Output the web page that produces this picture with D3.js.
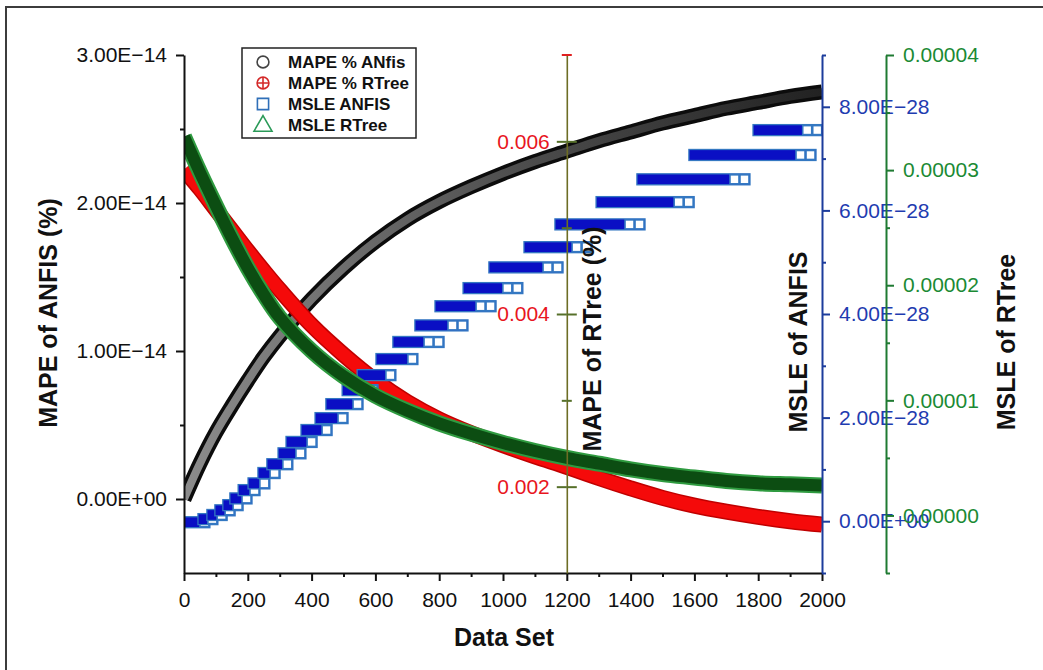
<!DOCTYPE html>
<html>
<head>
<meta charset="utf-8">
<script src="https://cdn.jsdelivr.net/npm/d3@7"></script>
<style>
  body { margin: 0; background: #fff; }
  svg { display: block; }
</style>
</head>
<body>
<script>
const FONT = "'Liberation Sans', Arial, Helvetica, sans-serif";

const dataSet = [0, 50, 100, 150, 200, 250, 300, 400, 500, 600, 700, 800, 900, 1000,
                 1100, 1200, 1300, 1400, 1500, 1600, 1700, 1800, 1900, 2000];
// MAPE of ANFIS, units of 1E-14
const mapeAnfis = [0.00, 0.24, 0.45, 0.63, 0.80, 0.96, 1.10, 1.35, 1.56, 1.74, 1.89, 2.01, 2.11, 2.20,
                   2.28, 2.35, 2.42, 2.48, 2.54, 2.59, 2.64, 2.68, 2.72, 2.75];
// MAPE of RTree (%)
const mapeRtree = [0.00567, 0.00545, 0.00521, 0.00497, 0.00473, 0.00450, 0.00428, 0.00387, 0.00353, 0.00323,
                   0.00298, 0.00278, 0.00262, 0.00248, 0.00235, 0.00223, 0.00210, 0.00198, 0.00187, 0.00178,
                   0.00171, 0.00165, 0.00160, 0.00156];
// MSLE of RTree, units of 1E-5
const msleRtree = [3.29, 2.98, 2.69, 2.41, 2.15, 1.92, 1.72, 1.43, 1.21, 1.04, 0.91, 0.80, 0.71, 0.63,
                   0.56, 0.50, 0.45, 0.40, 0.36, 0.33, 0.30, 0.28, 0.27, 0.26];
// MSLE of ANFIS: stepped runs of squares, level in units of 1E-28, run start / end on Data Set
const msleLevel = [-0.02, 0.04, 0.12, 0.21, 0.31, 0.44, 0.60, 0.73, 0.93, 1.10, 1.31, 1.53, 1.76, 1.99, 2.26,
                   2.53, 2.82, 3.13, 3.46, 3.78, 4.15, 4.50, 4.90, 5.29, 5.73, 6.16, 6.60, 7.07, 7.55];
const msleStart = [0, 61, 89, 114, 139, 161, 187, 218, 249, 277, 312, 337, 384, 428, 462,
                   513, 560, 619, 672, 741, 804, 892, 973, 1083, 1180, 1309, 1437, 1600, 1801];
const msleEnd = [64, 89, 118, 143, 168, 196, 221, 252, 284, 324, 365, 400, 447, 497, 544,
                 591, 647, 716, 798, 873, 961, 1045, 1171, 1262, 1428, 1582, 1757, 1964, 1985];

// ticks
const xTicks = [0, 200, 400, 600, 800, 1000, 1200, 1400, 1600, 1800, 2000];
const xMinor = [100, 300, 500, 700, 900, 1100, 1300, 1500, 1700, 1900];
const anfisTicks = [0, 1, 2, 3];
const anfisLabels = ["0.00E+00", "1.00E\u221214", "2.00E\u221214", "3.00E\u221214"];
const anfisMinor = [0.5, 1.5, 2.5];
const rtreeTicks = [0.002, 0.004, 0.006];
const rtreeLabels = ["0.002", "0.004", "0.006"];
const rtreeMinor = [0.003, 0.005];
const msleATicks = [0, 2, 4, 6, 8];
const msleALabels = ["0.00E+00", "2.00E\u221228", "4.00E\u221228", "6.00E\u221228", "8.00E\u221228"];
const msleAMinor = [-1, 1, 3, 5, 7, 9];
const msleRTicks = [0, 1, 2, 3, 4];
const msleRLabels = ["0.00000", "0.00001", "0.00002", "0.00003", "0.00004"];
const msleRMinor = [-0.5, 0.5, 1.5, 2.5, 3.5];
const legendNames = ["MAPE % ANfis", "MAPE % RTree", "MSLE ANFIS", "MSLE RTree"];

const W = 1043, H = 670;
const plot = { left: 184, right: 822, top: 55, bottom: 573 };
const blueAxisX = 822, greenAxisX = 886;

const svg = d3.select("body").append("svg").attr("width", W).attr("height", H);
svg.append("rect").attr("width", W).attr("height", H).attr("fill", "#fff");

// frame
svg.append("path")
    .attr("d", `M6,${H} V7 H${W}`)
    .attr("fill", "none")
    .attr("stroke", "#3c3c3c")
    .attr("stroke-width", 2);

const xScale = d3.scaleLinear().domain([0, 2000]).range([plot.left, plot.right]);
const yAnfis = d3.scaleLinear().domain([-0.5, 3]).range([plot.bottom, plot.top]);
const yRtree = d3.scaleLinear().domain([0.001, 0.007]).range([plot.bottom, plot.top]);
const yMsleA = d3.scaleLinear().domain([-1, 9]).range([plot.bottom, plot.top]);
const yMsleR = d3.scaleLinear().domain([-0.5, 4]).range([plot.bottom, plot.top]);

svg.append("defs").append("clipPath").attr("id", "plot-clip")
    .append("rect")
    .attr("x", plot.left).attr("y", 0)
    .attr("width", plot.right - plot.left).attr("height", H);

const grad = svg.select("defs").append("linearGradient")
    .attr("id", "black-grad")
    .attr("gradientUnits", "userSpaceOnUse")
    .attr("x1", plot.left).attr("x2", plot.right).attr("y1", 0).attr("y2", 0);
grad.append("stop").attr("offset", "0%").attr("stop-color", "#8c8c8c");
grad.append("stop").attr("offset", "50%").attr("stop-color", "#505050");
grad.append("stop").attr("offset", "100%").attr("stop-color", "#222");

const canvas = svg.append("g").attr("clip-path", "url(#plot-clip)");

function band(values, yScale, layers)
{
    var line = d3.line()
        .x(function (d, i) { return xScale(dataSet[i]); })
        .y(function (d) { return yScale(d); })
        .curve(d3.curveCatmullRom.alpha(0.5));
    layers.forEach(function (l) {
        canvas.append("path")
            .datum(values)
            .attr("d", line)
            .attr("fill", "none")
            .attr("stroke", l.color)
            .attr("stroke-width", l.width)
            .attr("stroke-linecap", "butt")
            .attr("stroke-linejoin", "round");
    });
}

// draw order follows the legend: black, red, blue, green
band(mapeAnfis, yAnfis, [{ color: "#0c0c0c", width: 15 }, { color: "url(#black-grad)", width: 8 }]);
band(mapeRtree, yRtree, [{ color: "#c00000", width: 16 }, { color: "#f50a0a", width: 13 }]);

const m = 11;
const runs = msleLevel.map(function (v, i) {
    return { level: v, start: msleStart[i], end: msleEnd[i] };
});
const runG = canvas.append("g").selectAll("g").data(runs).enter().append("g");
runG.append("rect")
    .attr("x", function (d) { return xScale(d.start) - m / 2; })
    .attr("y", function (d) { return yMsleA(d.level) - m / 2; })
    .attr("width", function (d) { return xScale(d.end) - xScale(d.start) + m; })
    .attr("height", m)
    .attr("fill", "#0a0fc4")
    .attr("stroke", "#3478c2")
    .attr("stroke-width", 1.3);
runG.each(function (d) {
    var len = xScale(d.end) - xScale(d.start);
    var n = len > 40 ? 2 : 1;
    for (var k = 0; k < n; k++) {
        d3.select(this).append("rect")
            .attr("x", xScale(d.end) - m / 2 - k * (m - 1) + 1)
            .attr("y", yMsleA(d.level) - m / 2 + 1)
            .attr("width", m - 2)
            .attr("height", m - 2)
            .attr("fill", "#fff")
            .attr("stroke", "#3478c2")
            .attr("stroke-width", 1.6);
    }
});

band(msleRtree, yMsleR, [{ color: "#2f9b40", width: 16 }, { color: "#0c4d12", width: 12 }]);

// axes
function styleAxis(g, lineColor, textColor, size)
{
    g.attr("font-family", FONT).attr("font-size", size);
    g.select(".domain").attr("stroke", lineColor).attr("stroke-width", 2);
    g.selectAll(".tick line").attr("stroke", lineColor).attr("stroke-width", 2);
    g.selectAll(".tick text").attr("fill", textColor);
}

function minorAxis(axis, x, y, color)
{
    var g = svg.append("g").attr("transform", `translate(${x},${y})`).call(axis.tickFormat(""));
    g.select(".domain").remove();
    g.selectAll(".tick line").attr("stroke", color).attr("stroke-width", 2);
}

// bottom
var gx = svg.append("g")
    .attr("transform", `translate(0,${plot.bottom})`)
    .call(d3.axisBottom(xScale).tickValues(xTicks).tickFormat(d3.format("d"))
        .tickSize(8).tickSizeOuter(0).tickPadding(11));
styleAxis(gx, "#111", "#111", 21);
minorAxis(d3.axisBottom(xScale).tickValues(xMinor).tickSize(4), 0, plot.bottom, "#111");

// left
var gl = svg.append("g")
    .attr("transform", `translate(${plot.left},0)`)
    .call(d3.axisLeft(yAnfis).tickValues(anfisTicks).tickFormat(function (d, i) { return anfisLabels[i]; })
        .tickSize(8).tickSizeOuter(0).tickPadding(9));
styleAxis(gl, "#111", "#111", 21);
minorAxis(d3.axisLeft(yAnfis).tickValues(anfisMinor).tickSize(4), plot.left, 0, "#111");

// middle (RTree MAPE) axis, ticks across the line
const rtreeX = xScale(1200);
var gr = svg.append("g")
    .attr("transform", `translate(${rtreeX},0)`)
    .call(d3.axisLeft(yRtree).tickValues(rtreeTicks).tickFormat(function (d, i) { return rtreeLabels[i]; })
        .tickSize(10).tickSizeOuter(0).tickPadding(7));
styleAxis(gr, "#6d6d24", "#e8161e", 21);
gr.select(".domain").attr("stroke-width", 1.6);
minorAxis(d3.axisRight(yRtree).tickValues(rtreeTicks).tickSize(10), rtreeX, 0, "#56702a");
gr.selectAll(".tick line").attr("stroke", "#56702a");
minorAxis(d3.axisLeft(yRtree).tickValues(rtreeMinor).tickSize(5), rtreeX, 0, "#56702a");
minorAxis(d3.axisRight(yRtree).tickValues(rtreeMinor).tickSize(5), rtreeX, 0, "#56702a");
svg.append("line")
    .attr("x1", rtreeX - 5).attr("x2", rtreeX + 5)
    .attr("y1", yRtree(0.007)).attr("y2", yRtree(0.007))
    .attr("stroke", "#e02020").attr("stroke-width", 2);

// right blue axis
var gb = svg.append("g")
    .attr("transform", `translate(${blueAxisX},0)`)
    .call(d3.axisRight(yMsleA).tickValues(msleATicks).tickFormat(function (d, i) { return msleALabels[i]; })
        .tickSize(8).tickSizeOuter(0).tickPadding(9));
styleAxis(gb, "#1c3c9c", "#1f3cb0", 21);
minorAxis(d3.axisRight(yMsleA).tickValues(msleAMinor).tickSize(4), blueAxisX, 0, "#1c3c9c");

// right green axis
var gg = svg.append("g")
    .attr("transform", `translate(${greenAxisX},0)`)
    .call(d3.axisRight(yMsleR).tickValues(msleRTicks).tickFormat(function (d, i) { return msleRLabels[i]; })
        .tickSize(8).tickSizeOuter(0).tickPadding(9));
styleAxis(gg, "#1f7a32", "#1b8a34", 21);
minorAxis(d3.axisRight(yMsleR).tickValues(msleRMinor).tickSize(4), greenAxisX, 0, "#1f7a32");

// axis titles
function axisTitle(x, y, text, rotate)
{
    svg.append("text")
        .attr("transform", `translate(${x},${y})` + (rotate ? " rotate(-90)" : ""))
        .attr("text-anchor", "middle")
        .attr("dy", "0.35em")
        .attr("font-family", FONT)
        .attr("font-weight", "bold")
        .attr("font-size", 25)
        .attr("fill", "#111")
        .text(text);
}
axisTitle(48, 313, "MAPE of ANFIS (%)", true);
axisTitle(592, 339, "MAPE of RTree (%)", true);
axisTitle(798, 342, "MSLE of ANFIS", true);
axisTitle(1006, 342, "MSLE of RTree", true);
axisTitle(504, 637, "Data Set", false);

// legend
const lg = svg.append("g").attr("transform", "translate(242,48)");
lg.append("rect")
    .attr("width", 174).attr("height", 90)
    .attr("fill", "#fff")
    .attr("stroke", "#222").attr("stroke-width", 1.5);
const legendSym = [
    { type: d3.symbolCircle, size: 110, color: "#444" },
    { type: d3.symbolCircle, size: 110, color: "#d42a2a" },
    { type: d3.symbolSquare, size: 125, color: "#2f6fb8" },
    { type: d3.symbolTriangle, size: 140, color: "#2a9a58" }
];
const items = lg.selectAll("g.item").data(legendNames).enter().append("g")
    .attr("class", "item")
    .attr("transform", function (d, i) { return `translate(0,${14 + i * 21})`; });
items.append("path")
    .attr("transform", function (d, i) { return `translate(21,${i === 3 ? 1 : 0})`; })
    .attr("d", function (d, i) { return d3.symbol().type(legendSym[i].type).size(legendSym[i].size)(); })
    .attr("fill", "none")
    .attr("stroke", function (d, i) { return legendSym[i].color; })
    .attr("stroke-width", 1.6);
items.filter(function (d, i) { return i === 1; }).append("path")
    .attr("d", "M15,0 H27 M21,-6 V6")
    .attr("stroke", "#d42a2a").attr("stroke-width", 1.6);
items.append("text")
    .attr("x", 46)
    .attr("dy", "0.36em")
    .attr("font-family", FONT)
    .attr("font-weight", "bold")
    .attr("font-size", 17)
    .attr("fill", "#111")
    .text(function (d) { return d; });
</script>
</body>
</html>
